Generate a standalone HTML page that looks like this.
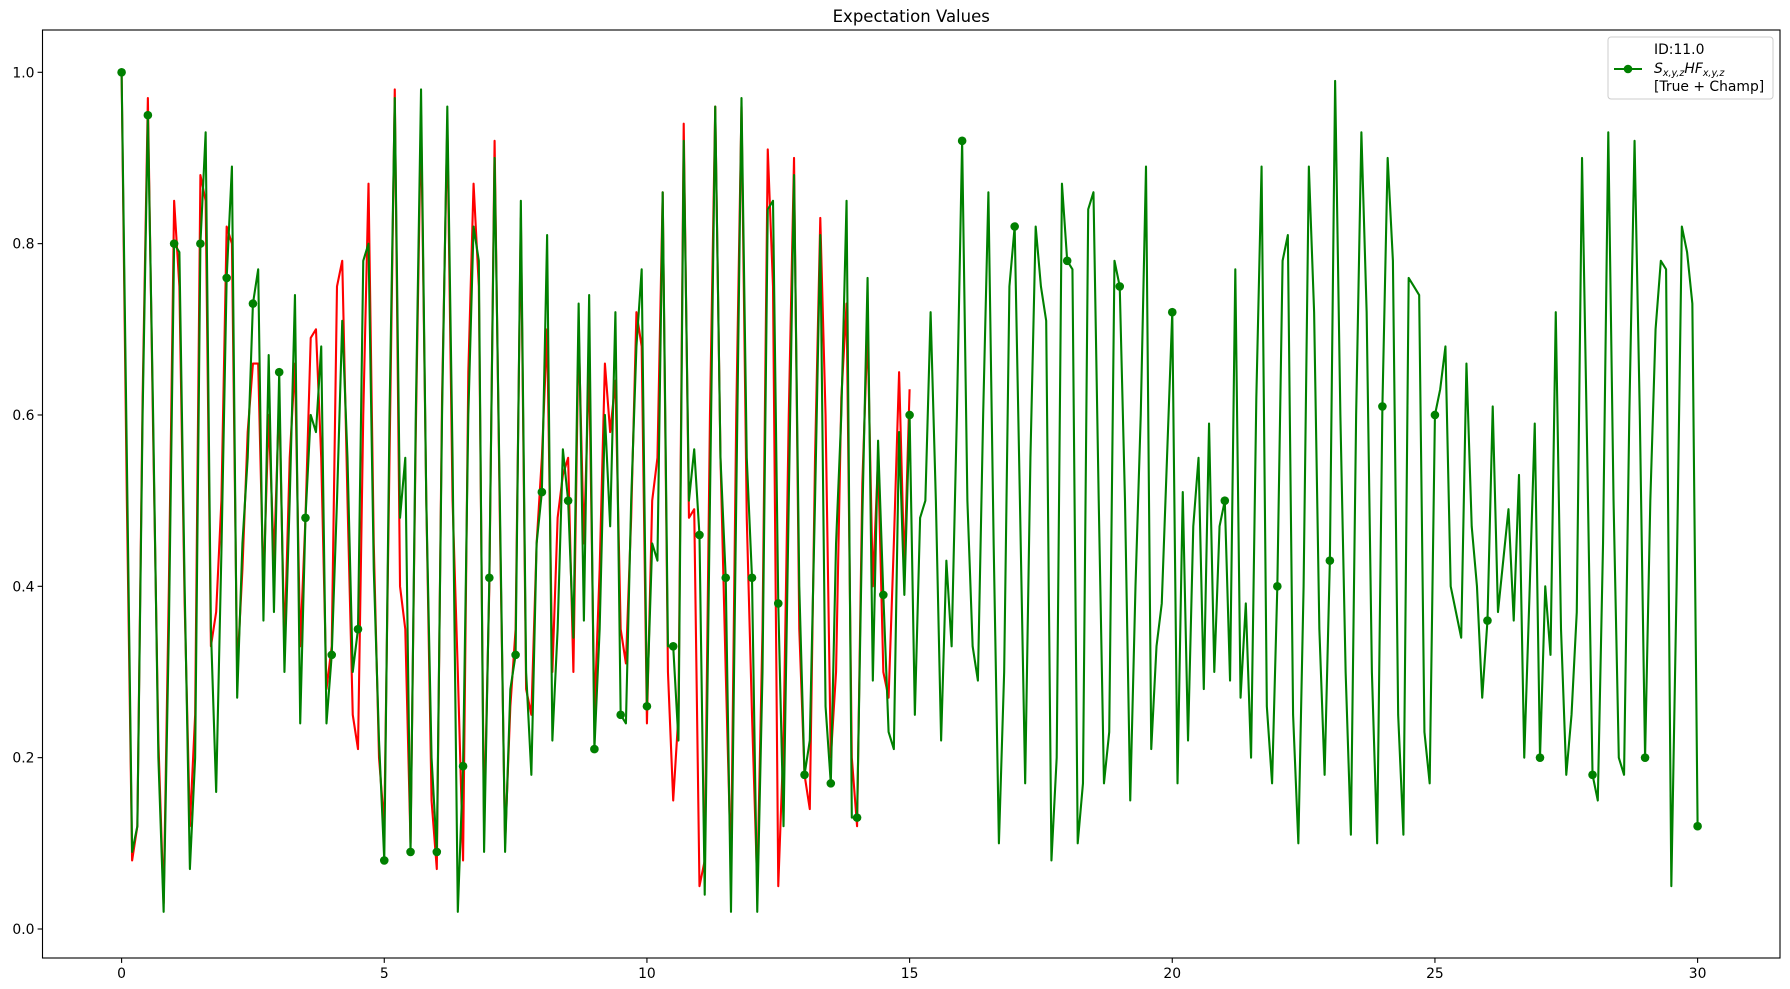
<!DOCTYPE html>
<html><head><meta charset="utf-8"><style>
html,body{margin:0;padding:0;background:#fff;}
svg{display:block;font-family:"DejaVu Sans","Liberation Sans",sans-serif;}
</style></head><body>
<svg id="chart" width="1790" height="989" viewBox="0 0 1790 989"></svg>
<script>
const xStep = 0.1;
const greenValues = [1.0,0.55,0.09,0.12,0.6,0.95,0.6,0.2,0.02,0.35,0.8,0.79,0.4,0.07,0.2,0.8,0.93,0.35,0.16,0.44,0.76,0.89,0.27,0.45,0.55,0.73,0.77,0.36,0.67,0.37,0.65,0.3,0.5,0.74,0.24,0.48,0.6,0.58,0.68,0.24,0.32,0.5,0.71,0.55,0.3,0.35,0.78,0.8,0.42,0.22,0.08,0.6,0.97,0.48,0.55,0.09,0.6,0.98,0.5,0.2,0.09,0.6,0.96,0.55,0.02,0.19,0.6,0.82,0.78,0.09,0.41,0.9,0.5,0.09,0.28,0.32,0.85,0.3,0.18,0.45,0.51,0.81,0.22,0.35,0.56,0.5,0.34,0.73,0.36,0.74,0.21,0.35,0.6,0.47,0.72,0.25,0.24,0.5,0.68,0.77,0.26,0.45,0.43,0.86,0.33,0.33,0.22,0.92,0.5,0.56,0.46,0.04,0.5,0.96,0.55,0.41,0.02,0.5,0.97,0.55,0.41,0.02,0.3,0.84,0.85,0.38,0.12,0.5,0.88,0.4,0.18,0.22,0.5,0.81,0.26,0.17,0.45,0.6,0.85,0.13,0.13,0.48,0.76,0.29,0.57,0.39,0.23,0.21,0.58,0.39,0.6,
0.25,0.48,0.5,0.72,0.5,0.22,0.43,0.33,0.6,0.92,0.5,0.33,0.29,0.6,0.86,0.45,0.1,0.3,0.75,0.82,0.5,0.17,0.55,0.82,0.75,0.71,0.08,0.2,0.87,0.78,0.77,0.1,0.17,0.84,0.86,0.5,0.17,0.23,0.78,0.75,0.5,0.15,0.4,0.6,0.89,0.21,0.33,0.38,0.55,0.72,0.17,0.51,0.22,0.47,0.55,0.28,0.59,0.3,0.47,0.5,0.29,0.77,0.27,0.38,0.2,0.62,0.89,0.26,0.17,0.4,0.78,0.81,0.25,0.1,0.4,0.89,0.72,0.35,0.18,0.43,0.99,0.6,0.3,0.11,0.6,0.93,0.72,0.3,0.1,0.61,0.9,0.78,0.25,0.11,0.76,0.75,0.74,0.23,0.17,0.6,0.63,0.68,0.4,0.37,0.34,0.66,0.47,0.4,0.27,0.36,0.61,0.37,0.43,0.49,0.36,0.53,0.2,0.39,0.59,0.2,0.4,0.32,0.72,0.35,0.18,0.25,0.37,0.9,0.55,0.18,0.15,0.45,0.93,0.5,0.2,0.18,0.6,0.92,0.6,0.2,0.5,0.7,0.78,0.77,0.05,0.4,0.82,0.79,0.73,0.12];
const redValues = [1.0,0.5,0.08,0.12,0.62,0.97,0.58,0.22,0.03,0.4,0.85,0.75,0.38,0.12,0.25,0.88,0.85,0.33,0.37,0.5,0.82,0.8,0.3,0.42,0.58,0.66,0.66,0.4,0.6,0.43,0.62,0.33,0.55,0.66,0.33,0.48,0.69,0.7,0.55,0.28,0.33,0.75,0.78,0.5,0.25,0.21,0.6,0.87,0.45,0.2,0.12,0.55,0.98,0.4,0.35,0.1,0.58,0.95,0.5,0.15,0.07,0.62,0.94,0.5,0.3,0.08,0.65,0.87,0.75,0.12,0.4,0.92,0.48,0.1,0.26,0.35,0.83,0.28,0.25,0.45,0.55,0.7,0.3,0.48,0.53,0.55,0.3,0.7,0.45,0.66,0.25,0.42,0.66,0.58,0.64,0.35,0.31,0.48,0.72,0.68,0.24,0.5,0.55,0.86,0.3,0.15,0.25,0.94,0.48,0.49,0.05,0.08,0.6,0.96,0.55,0.3,0.07,0.6,0.96,0.48,0.25,0.05,0.35,0.91,0.75,0.05,0.22,0.6,0.9,0.35,0.18,0.14,0.55,0.83,0.6,0.2,0.3,0.62,0.73,0.2,0.12,0.52,0.7,0.4,0.55,0.3,0.27,0.45,0.65,0.42,0.63];
const xTicks = [0,5,10,15,20,25,30];
const yTicks = [0.0,0.2,0.4,0.6,0.8,1.0];
const yTickLabels = ["0.0","0.2","0.4","0.6","0.8","1.0"];

const svg = document.getElementById('chart');
const NS = 'http://www.w3.org/2000/svg';
const L=42.5, R=1780, T=30, B=958;
const X = v => 121.6 + v*(1697.6-121.6)/30;
const Y = v => 929 - v*(929-72.3);
function mk(tag, attrs, parent){const e=document.createElementNS(NS,tag);for(const k in attrs)e.setAttribute(k,attrs[k]);(parent||svg).appendChild(e);return e;}

const title = mk('text',{x:(L+R)/2,y:22,'text-anchor':'middle','font-size':'16.5',fill:'#000'});


title.textContent='Expectation Values';

const frame = mk('rect',{x:L,y:T,width:R-L,height:B-T,fill:'none',stroke:'#000','stroke-width':1.1});



xTicks.forEach(t=>{
  const g=mk('g',{});
  
  
  mk('line',{x1:X(t),x2:X(t),y1:B,y2:B+4.9,stroke:'#000','stroke-width':1.1},g);
  const tx=mk('text',{x:X(t),y:B+20,'text-anchor':'middle','font-size':'13.9',fill:'#000'},g);
  tx.textContent=String(t);
});
yTicks.forEach((t,i)=>{
  const g=mk('g',{});
  
  
  mk('line',{x1:L-4.9,x2:L,y1:Y(t),y2:Y(t),stroke:'#000','stroke-width':1.1},g);
  const tx=mk('text',{x:L-8,y:Y(t)+5,'text-anchor':'end','font-size':'13.9',fill:'#000'},g);
  tx.textContent=yTickLabels[i];
});

function series(vals,color,name){
  const d=vals.map((v,i)=>(i?'L':'M')+X(i*xStep).toFixed(2)+' '+Y(v).toFixed(2)).join(' ');
  const p=mk('path',{d:d,fill:'none',stroke:color,'stroke-width':2.1,'stroke-linejoin':'round'});
  
  
}
series(redValues,'#ff0000','true-series-line');
series(greenValues,'#008000','champ-series-line');
greenValues.forEach((v,i)=>{
  const show = (i<=150 && i%5===0) || (i>150 && i%10===0);
  if(!show) return;
  const c=mk('circle',{cx:X(i*xStep),cy:Y(v),r:4.3,fill:'#008000'});
  
  
});

const lg=mk('g',{});


mk('rect',{x:1608,y:37,width:165,height:62,rx:3,fill:'#fff','fill-opacity':0.8,stroke:'#ccc','stroke-width':1},lg);
const t1=mk('text',{x:1654,y:54,'font-size':'13.9',fill:'#000'},lg);t1.textContent='ID:11.0';
mk('line',{x1:1614,x2:1642,y1:69,y2:69,stroke:'#008000','stroke-width':2.1},lg);
mk('circle',{cx:1628,cy:69,r:4.3,fill:'#008000'},lg);
const t2=mk('text',{x:1654,y:73,'font-size':'13.9',fill:'#000','font-style':'italic'},lg);
t2.innerHTML='S<tspan font-size="9.5" dy="3">x,y,z</tspan><tspan dy="-3">HF</tspan><tspan font-size="9.5" dy="3">x,y,z</tspan>';
const t3=mk('text',{x:1654,y:91,'font-size':'13.9',fill:'#000'},lg);t3.textContent='[True + Champ]';
</script>
</body></html>
